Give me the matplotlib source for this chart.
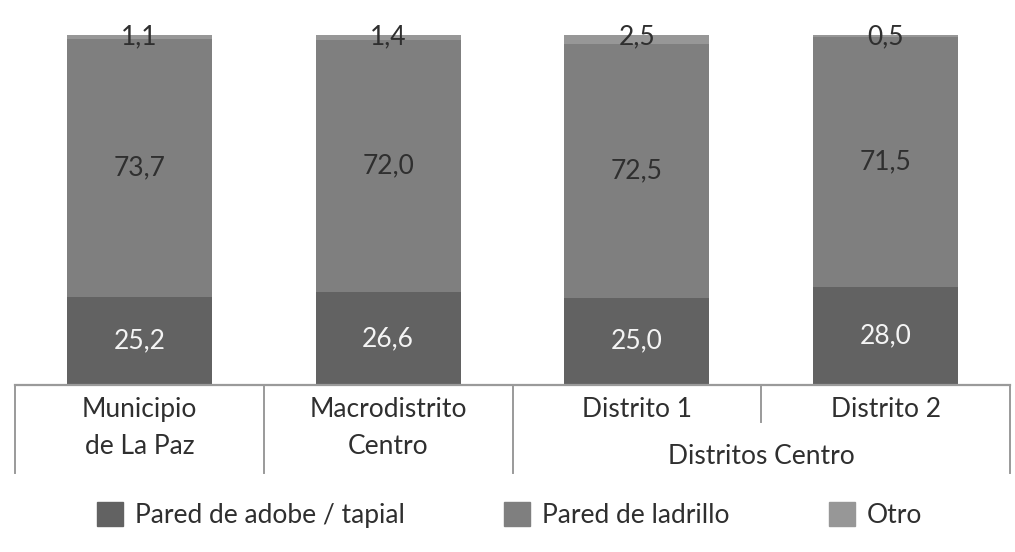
import matplotlib
matplotlib.use("Agg")
import matplotlib.pyplot as plt
from matplotlib.patches import Patch

plt.rcParams['font.family'] = ['Lato', 'DejaVu Sans']

categories = ["Municipio\nde La Paz", "Macrodistrito\nCentro", "Distrito 1", "Distrito 2"]
group_label = "Distritos Centro"
adobe = [25.2, 26.6, 25.0, 28.0]
ladrillo = [73.7, 72.0, 72.5, 71.5]
otro = [1.1, 1.4, 2.5, 0.5]
series_names = ["Pared de adobe / tapial", "Pared de ladrillo", "Otro"]

c_dark, c_mid, c_light = "#626262", "#7f7f7f", "#979797"
txt = "#2f2f2f"
line_c = "#9a9a9a"
fs = 19

fig = plt.figure(figsize=(10.15, 5.52), dpi=100)
ax = fig.add_axes([15 / 1015, 167 / 552, 995 / 1015, 350 / 552])

x = list(range(len(categories)))
w = 0.583
bottom2 = [a + b for a, b in zip(adobe, ladrillo)]
ax.bar(x, adobe, w, color=c_dark)
ax.bar(x, ladrillo, w, bottom=adobe, color=c_mid)
ax.bar(x, otro, w, bottom=bottom2, color=c_light)

for i in x:
    ax.text(i, adobe[i] / 2, f"{adobe[i]:.1f}".replace(".", ","), ha="center", va="center",
            fontsize=fs, color="#f4f4f4")
    ax.text(i, adobe[i] + ladrillo[i] / 2, f"{ladrillo[i]:.1f}".replace(".", ","), ha="center",
            va="center", fontsize=fs, color=txt)
    ax.text(i, bottom2[i] + otro[i] - 0.5, f"{otro[i]:.1f}".replace(".", ","), ha="center",
            va="center", fontsize=fs, color=txt)

ax.set_xlim(-0.5, 3.5)
ax.set_ylim(0, 100)
for s in ["top", "right", "left"]:
    ax.spines[s].set_visible(False)
ax.spines["bottom"].set_color(line_c)
ax.spines["bottom"].set_linewidth(1.6)
ax.set_xticks([])
ax.set_yticks([])

# category separators below the axis
tr = ax.get_xaxis_transform()
for xs in [-0.5, 0.5, 1.5, 3.5]:
    ax.plot([xs, xs], [0, -88 / 350], transform=tr, color=line_c, lw=1.4, clip_on=False)
ax.plot([2.5, 2.5], [0, -37 / 350], transform=tr, color=line_c, lw=1.4, clip_on=False)

for i, lab in enumerate(categories):
    ax.text(i, -12 / 350, lab, transform=tr, ha="center", va="top", fontsize=fs,
            color=txt, linespacing=1.6)
ax.text(2.5, -72 / 350, group_label, transform=tr, ha="center", va="center",
        fontsize=fs, color=txt)

handles = [Patch(color=c) for c in [c_dark, c_mid, c_light]]
fig.legend(handles, series_names, loc="center left", bbox_to_anchor=(97 / 1015, 1 - 515 / 552),
           ncol=3, frameon=False, fontsize=fs, labelcolor=txt, handlelength=1.0,
           handleheight=1.0, handletextpad=0.45, columnspacing=3.75,
           borderpad=0, borderaxespad=0)

fig.savefig("out.png", dpi=100)
